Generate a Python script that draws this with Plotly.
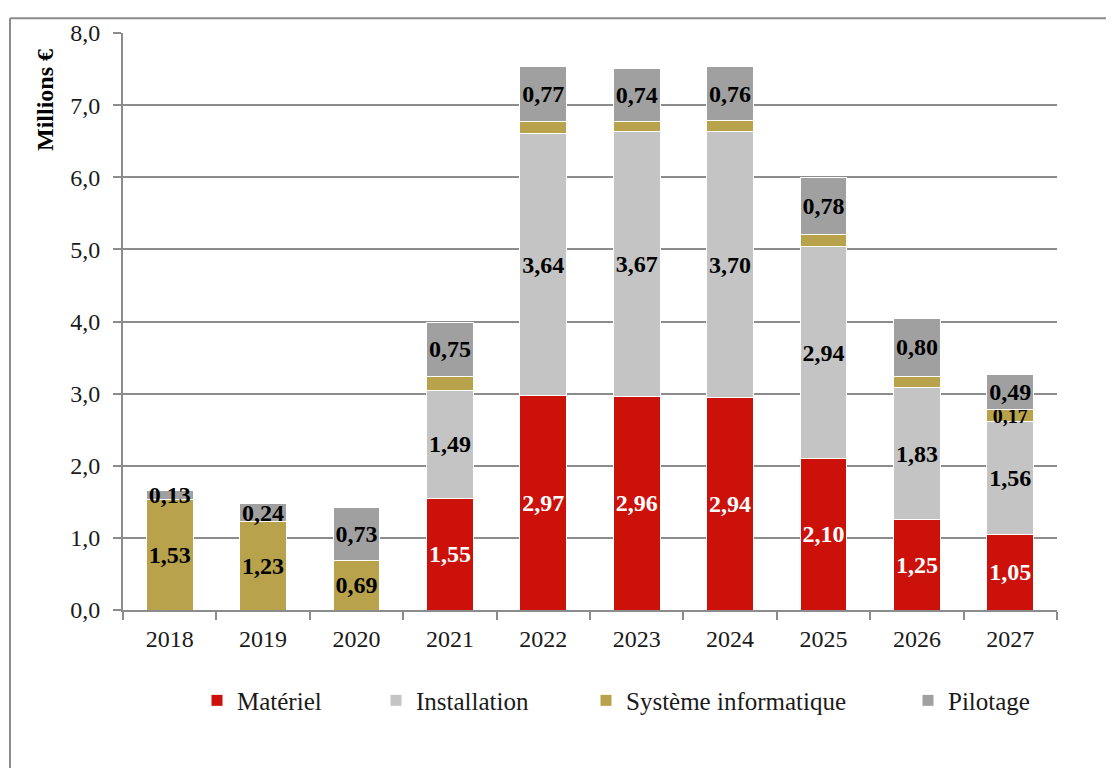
import plotly.graph_objects as go

# données (millions €)
annees = ["2018", "2019", "2020", "2021", "2022", "2023", "2024", "2025", "2026", "2027"]
materiel = [0, 0, 0, 1.55, 2.97, 2.96, 2.94, 2.10, 1.25, 1.05]
installation = [0, 0, 0, 1.49, 3.64, 3.67, 3.70, 2.94, 1.83, 1.56]
systeme_info = [1.53, 1.23, 0.69, 0.20, 0.16, 0.14, 0.14, 0.17, 0.16, 0.17]
pilotage = [0.13, 0.24, 0.73, 0.75, 0.77, 0.74, 0.76, 0.78, 0.80, 0.49]
# étiquettes affichées pour le système informatique (seulement certaines années)
si_affiche = [True, True, True, False, False, False, False, False, False, True]

FONT = "Liberation Serif, DejaVu Serif, serif"
GRIS = "#8c8c8c"

# page 1114x776, le body html ajoute 8 px de marge tout autour
OFF = 8
W, H = 1114 - 2 * OFF, 776 - 2 * OFF
L, R, T, B = 115, 49, 16, 158
pw, ph = W - L - R, H - T - B


def px_x(p):
    # coordonnée pixel de la page -> paper
    return (p - OFF - L) / pw


def px_y(p):
    return (OFF + H - B - p) / ph


def fmt(v):
    return f"{v:.2f}".replace(".", ",")


def labels(vals, show=None):
    out = []
    for i, v in enumerate(vals):
        ok = v > 0 and (show is None or show[i])
        out.append(fmt(v) if ok else "")
    return out


# nom, valeurs, couleur, couleur du texte, filtre, légende, position légende (px)
series = [
    ("Matériel", materiel, "#CC110A", "white", None, "legend", 197),
    ("Installation", installation, "#C4C4C4", "black", None, "legend2", 376),
    ("Système informatique", systeme_info, "#B8A24B", "black", si_affiche, "legend3", 586),
    ("Pilotage", pilotage, "#A0A0A0", "black", None, "legend4", 908),
]

fig = go.Figure()
legendes = {}
for nom, vals, couleur, couleur_txt, show, leg, lx in series:
    # petit segment SI 2027 : texte un peu réduit pour ne pas chevaucher 0,49
    tailles = [24] * len(vals)
    if show is not None:
        tailles[-1] = 20
    fig.add_trace(
        go.Bar(
            x=annees,
            y=vals,
            name=nom,
            legend=leg,
            marker=dict(color=couleur, line=dict(color="white", width=1)),
            text=labels(vals, show),
            textposition="inside",
            insidetextanchor="middle",
            constraintext="none",
            textangle=0,
            textfont=dict(family=FONT, size=tailles, color=couleur_txt, weight="bold"),
            width=0.5,
        )
    )
    legendes[leg] = dict(
        orientation="h", x=px_x(lx), xanchor="left",
        y=px_y(702), yanchor="middle",
        font=dict(family=FONT, size=25, color="#1a1a1a"),
        bgcolor="rgba(0,0,0,0)",
    )

# cadre extérieur (haut et gauche)
fig.add_shape(type="line", xref="paper", yref="paper",
              x0=px_x(10), x1=px_x(1120), y0=px_y(9), y1=px_y(9),
              line=dict(color=GRIS, width=2))
fig.add_shape(type="line", xref="paper", yref="paper",
              x0=px_x(10), x1=px_x(10), y0=px_y(9), y1=px_y(790),
              line=dict(color=GRIS, width=2))

# titre de l'axe y
fig.add_annotation(
    text="<b>Millions €</b>", xref="paper", yref="paper",
    x=px_x(45), y=px_y(92), xanchor="center", yanchor="middle",
    textangle=-90, showarrow=False,
    font=dict(family=FONT, size=24, color="black"),
)

fig.update_layout(
    barmode="stack",
    width=W, height=H,
    margin=dict(l=L, r=R, t=T, b=B),
    paper_bgcolor="white",
    plot_bgcolor="white",
    separators=", ",
    font=dict(family=FONT, size=24, color="#1a1a1a"),
    showlegend=True,
    **legendes,
)

fig.update_xaxes(
    type="category",
    showline=True, linecolor=GRIS, linewidth=2,
    ticks="outside", tickson="boundaries", ticklen=8, tickcolor=GRIS, tickwidth=2,
    ticklabelstandoff=6,
    showgrid=False,
    tickfont=dict(family=FONT, size=24),
)
fig.update_yaxes(
    range=[0, 8], dtick=1, tickformat=".1f",
    showline=True, linecolor=GRIS, linewidth=2,
    ticks="outside", ticklen=8, tickcolor=GRIS, tickwidth=2,
    ticklabelstandoff=8,
    showgrid=True, gridcolor=GRIS, gridwidth=2,
    zeroline=False,
    tickfont=dict(family=FONT, size=24),
)

fig.write_html("out.html")
